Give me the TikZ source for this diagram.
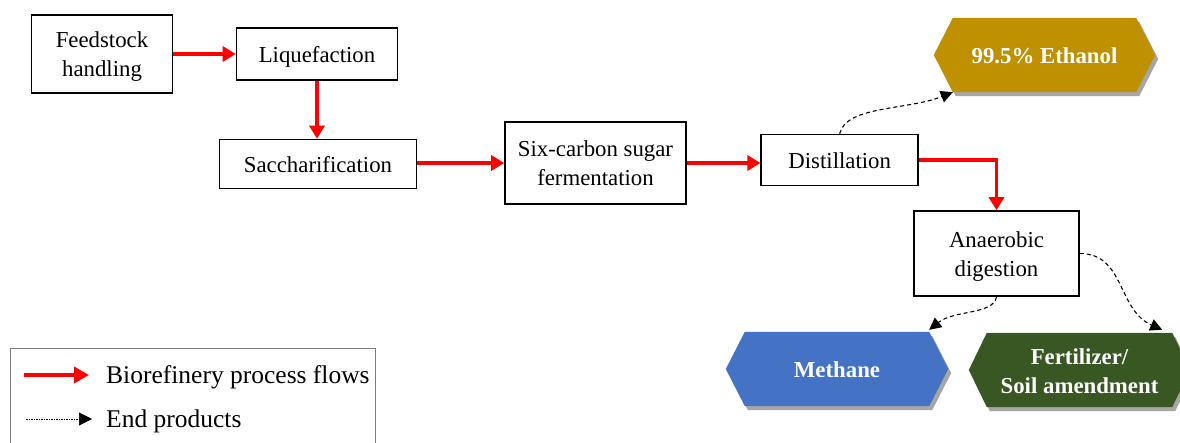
\documentclass[tikz,border=0pt]{standalone}
\usepackage{fontspec}
\setmainfont{Liberation Serif}
\usetikzlibrary{arrows.meta,shadows,backgrounds,calc}
\definecolor{ethgold}{HTML}{BF9000}
\definecolor{methblue}{HTML}{4472C4}
\definecolor{fertgreen}{HTML}{385723}
\definecolor{flowred}{HTML}{FF0000}
\definecolor{legendgray}{HTML}{7F7F7F}
\begin{document}
\begin{tikzpicture}[x=1pt,y=-1pt,
  procbox/.style={draw=black, line width=1.6pt, fill=white, inner sep=0pt, align=center,
    font=\fontsize{22.8}{29}\selectfont, text=black},
  oneline/.style={text height=16pt, text depth=-1.6pt},
  twoline/.style={text height=45pt, text depth=0pt},
  prodlabel/.style={inner sep=0pt, align=center, font=\fontsize{22.8}{29}\selectfont\bfseries, text=white},
  hexfill/.style={draw=none, drop shadow={shadow xshift=3pt, shadow yshift=-4pt, opacity=0.35, fill=black}},
  flow/.style={draw=flowred, line width=3.3pt, -{Triangle[length=13pt,width=15pt]}},
  endprod/.style={draw=black, line width=1.1pt, dash pattern=on 4pt off 3pt, -{Triangle[length=12pt,width=12pt]}},
  legflow/.style={draw=flowred, line width=3.6pt, -{Triangle[length=15pt,width=16pt]}},
  legend/.style={draw=black, line width=0.7pt, dash pattern=on 1.5pt off 1pt, -{Triangle[length=13pt,width=13pt]}},
  legendbox/.style={draw=legendgray, line width=1pt},
  legendtext/.style={anchor=base west, inner sep=0pt, font=\fontsize{25.5}{30}\selectfont}
]
\useasboundingbox (0,0) rectangle (1180,442);
\clip (0,0) rectangle (1180,442);

% process boxes
\node[procbox, twoline, minimum width=141pt, minimum height=78pt] (feed) at (102,54) {Feedstock\\handling};
\node[procbox, oneline, minimum width=161pt, minimum height=52pt] (liq) at (317,54) {Liquefaction};
\node[procbox, oneline, minimum width=197pt, minimum height=49pt] (sacc) at (318,164) {Saccharification};
\node[procbox, twoline, minimum width=181pt, minimum height=82pt] (six) at (595.5,163) {Six-carbon sugar\\fermentation};
\node[procbox, oneline, minimum width=157pt, minimum height=51pt] (dist) at (839.7,160) {Distillation};
\node[procbox, twoline, minimum width=165pt, minimum height=85pt] (ana) at (996.5,253.5) {Anaerobic\\digestion};

% products
\node[prodlabel, text height=16pt, text depth=0pt, minimum width=183pt, minimum height=74pt] (eth) at (1044.5,55) {99.5\% Ethanol};
\node[prodlabel, text height=16pt, text depth=0pt, minimum width=184pt, minimum height=74pt] (meth) at (837,369) {Methane};
\node[prodlabel, text height=46pt, text depth=0pt, minimum width=185pt, minimum height=74pt] (fert) at (1079.5,370) {Fertilizer/\\Soil amendment};

\begin{scope}[on background layer]
  \fill[ethgold, hexfill] ([xshift=-19pt]eth.west) -- (eth.north west) -- (eth.north east)
    -- ([xshift=19pt]eth.east) -- (eth.south east) -- (eth.south west) -- cycle;
  \fill[methblue, hexfill] ([xshift=-19pt]meth.west) -- (meth.north west) -- (meth.north east)
    -- ([xshift=19pt]meth.east) -- (meth.south east) -- (meth.south west) -- cycle;
  \fill[fertgreen, hexfill] ([xshift=-18pt]fert.west) -- (fert.north west) -- (fert.north east)
    -- ([xshift=18pt]fert.east) -- (fert.south east) -- (fert.south west) -- cycle;
\end{scope}

% process flows
\draw[flow] (feed.east) -- (feed.east -| liq.west);
\draw[flow] (liq.south) -- (liq.south |- sacc.north);
\draw[flow] (six.west -| sacc.east) -- (six.west);
\draw[flow] (six.east) -- (six.east -| dist.west);
\draw[flow] (dist.east) -| (ana.north);

% end products
\draw[endprod] (dist.north) .. controls +(6,-28) and +(-45,18) .. (eth.south west);
\draw[endprod] (ana.south) .. controls +(-3,18) and +(25,-20) .. ([yshift=2pt]meth.north east);
\draw[endprod] (ana.east) .. controls +(45,0) and +(-45,-20) .. ([xshift=-10pt,yshift=3pt]fert.north east);

% legend
\draw[legendbox] (10,348) rectangle (375,452);
\coordinate (lfs) at (24,375);
\coordinate (lfe) at (89,375);
\coordinate (les) at (26,419);
\coordinate (lee) at (92,419);
\draw[legflow] (lfs) -- (lfe);
\draw[legend] (les) -- (lee);
\node[legendtext] (lft) at (106,383) {Biorefinery process flows};
\node[legendtext] (let) at (106,427) {End products};
\end{tikzpicture}
\end{document}
